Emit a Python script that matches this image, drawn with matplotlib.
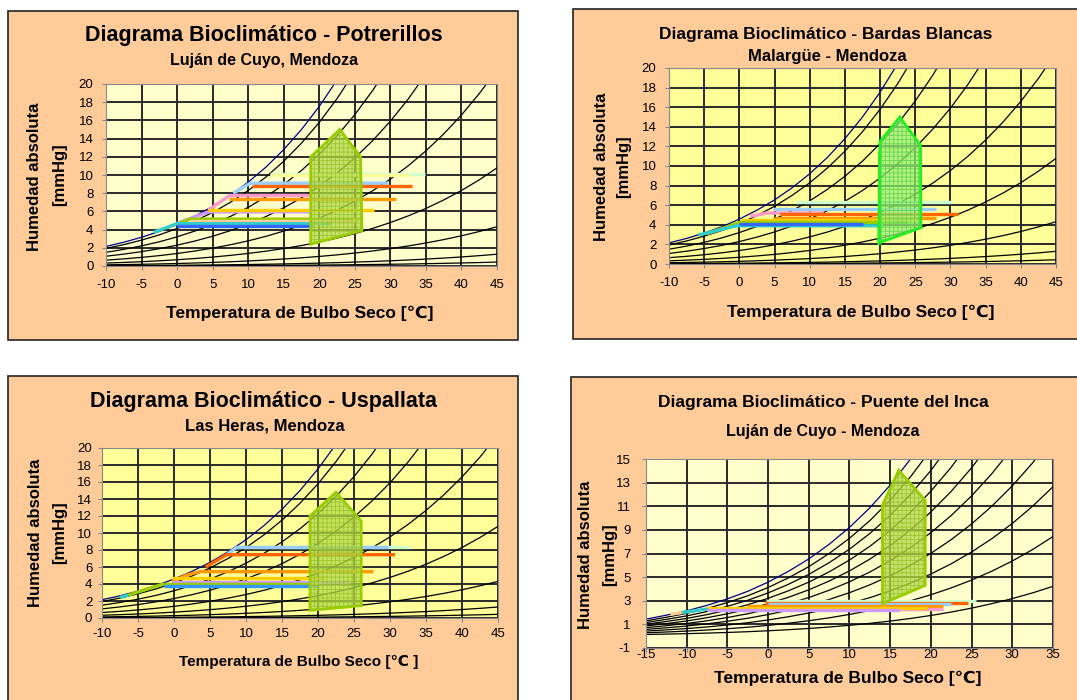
import numpy as np
import matplotlib.pyplot as plt
from matplotlib.patches import Rectangle, Polygon

plt.rcParams['font.family'] = ['Liberation Sans', 'DejaVu Sans']
plt.rcParams['hatch.linewidth'] = 0.6
plt.rcParams['axes.unicode_minus'] = False

W, H = 1077, 700

# saturation vapour pressure [mmHg]
sat_t = [-15, -12.5, -10, -7.5, -5, -2.5, 0, 2.5, 5, 7.5, 10, 12.5, 15, 17.5, 20,
         22.5, 25, 27.5, 30, 32.5, 35, 37.5, 40, 42.5, 45]
sat_p = [1.44, 1.78, 2.15, 2.61, 3.16, 3.80, 4.58, 5.49, 6.54, 7.78, 9.21, 10.87, 12.79,
         15.00, 17.54, 20.44, 23.76, 27.54, 31.82, 36.68, 42.18, 48.36, 55.32, 63.13, 71.88]

# relative humidity levels of the curves
rh_a = [1.0, 0.9, 0.7, 0.5, 0.3, 0.15, 0.06, 0.018, 0.006]
rh_b = [1.0, 0.9, 0.8, 0.7, 0.6, 0.5, 0.4, 0.3, 0.2, 0.1]

month_colors = ['#ccffcc', '#ffff99', '#99ccff', '#ff6600', '#ff99cc', '#ff9900',
                '#cc99ff', '#ffcc00', '#99cc00', '#ffcc99', '#33cccc', '#3366ff']

# monthly lines (T, h) - Potrerillos
pot_t = [[13.0, 34.9], [13.0, 32.8], [7.9, 10.3, 29.7], [10.5, 33.0], [4.4, 7.4, 19.0],
         [7.3, 30.8], [0.0, 4.4, 19.0], [4.4, 27.7], [0.0, 1.8, 25.7], [1.8, 25.0],
         [-3.3, 0.0, 21.7], [0.0, 19.1]]
pot_h = [[10.1, 10.1], [9.95, 9.95], [8.0, 9.1, 9.1], [8.8, 8.8], [6.15, 7.75, 7.75],
         [7.4, 7.4], [4.7, 5.95, 5.95], [6.15, 6.15], [4.6, 5.15, 5.15], [5.0, 5.0],
         [3.7, 4.65, 4.65], [4.4, 4.4]]
pot_zone_t = [18.8, 18.8, 22.9, 25.8, 26.0]
pot_zone_h = [2.4, 12.0, 15.0, 12.0, 3.9]

# Bardas Blancas
bar_t = [[8.0, 30.2], [4.8, 28.0], [1.5, 3.9, 12.0], [5.8, 31.1], [4.9, 28.0],
         [0.3, 25.7], [-4.6, 0.1, 24.0], [-5.8, -4.4, -0.4, 20.4], [0.0, 17.6]]
bar_h = [[6.35, 6.35], [5.6, 5.6], [4.85, 5.2, 5.2], [5.1, 5.1], [4.7, 4.7],
         [4.5, 4.5], [3.1, 4.25, 4.25], [2.96, 3.2, 3.9, 3.9], [4.05, 4.05]]
bar_colors = ['#ccffcc', '#99ccff', '#ff99cc', '#ff6600', '#ff9900', '#ffcc00',
              '#99cc00', '#33cccc', '#3366ff']
bar_zone_t = [19.8, 20.0, 22.8, 25.75, 25.8]
bar_zone_h = [2.15, 12.5, 15.0, 12.1, 3.7]

# Uspallata
usp_t = [[8.7, 32.8], [7.3, 8.7, 29.8], [4.4, 7.3, 30.7], [-0.3, 1.8, 3.6, 27.7],
         [-0.3, 21.0], [-0.3, 24.4], [-6.3, -1.7, 20.0], [-1.4, 19.8], [-7.5, -6.3]]
usp_h = [[8.3, 8.3], [7.45, 8.3, 8.3], [6.0, 7.45, 7.45], [4.27, 5.06, 5.45, 5.45],
         [4.67, 4.67], [4.2, 4.2], [2.7, 3.95, 3.95], [3.76, 3.76], [2.43, 2.7]]
usp_colors = ['#ccffcc', '#99ccff', '#ff6600', '#ff9900', '#ffcc00', '#cc99ff',
              '#99cc00', '#3399ff', '#33cccc']
usp_zone_t = [18.9, 18.9, 22.5, 26.0, 26.0]
usp_zone_h = [0.9, 12.0, 14.8, 11.4, 1.45]

# Puente del Inca
pdi_t = [[-0.2, 25.5], [-0.4, 24.6], [0.0, 22.5], [-2.6, 21.5], [-7.5, 21.5],
         [-7.5, 19.5], [-7.5, 16.2], [-10.6, -7.5], [-12.0, -10.6]]
pdi_h = [[3.0, 3.0], [2.8, 2.8], [2.7, 2.7], [2.55, 2.55], [2.3, 2.3],
         [2.42, 2.42], [2.2, 2.2], [2.0, 2.3], [1.85, 2.0]]
pdi_colors = ['#ccffcc', '#ff6600', '#99ccff', '#ff9900', '#ff99cc', '#ffcc00',
              '#cc99ff', '#33cccc', '#ffcc99']
pdi_zone_t = [14.05, 14.05, 16.05, 19.3, 19.3]
pdi_zone_h = [2.75, 11.1, 14.05, 11.5, 4.3]

ticks_x_a = [-10, -5, 0, 5, 10, 15, 20, 25, 30, 35, 40, 45]
ticks_y_a = [0, 2, 4, 6, 8, 10, 12, 14, 16, 18, 20]
ticks_x_b = [-15, -10, -5, 0, 5, 10, 15, 20, 25, 30, 35]
ticks_y_b = [-1, 1, 3, 5, 7, 9, 11, 13, 15]

fig = plt.figure(figsize=(W / 100, H / 100), dpi=100)


def px_box(l, t, r, b):
    return [l / W, 1 - b / H, (r - l) / W, (b - t) / H]


def frame(l, t, r, b):
    fig.patches.append(Rectangle((l / W, 1 - b / H), (r - l) / W, (b - t) / H,
                                 transform=fig.transFigure, facecolor='#ffcc99',
                                 edgecolor='#222222', lw=1.2, zorder=-5))


def txt(x, y, s, size, **kw):
    fig.text(x / W, 1 - y / H, s, fontsize=size, fontweight='bold',
             ha='center', va='center', **kw)


def chart(box, bg, rh, xlim, ylim, xt, yt, lines_t, lines_h, colors,
          zone_t, zone_h, zone_fill, zone_hatch, zone_edge, xpad, ypad):
    ax = fig.add_axes(px_box(*box))
    ax.set_facecolor(bg)
    for r in rh:
        c = '#000080' if r == 1.0 else 'black'
        ax.plot(sat_t, np.array(sat_p) * r, color=c, lw=0.9, zorder=2)
    for t, h, c in zip(lines_t, lines_h, colors):
        ax.plot(t, h, color=c, lw=2.4, solid_capstyle='butt', zorder=3)
    pts = list(zip(zone_t, zone_h))
    ax.add_patch(Polygon(pts, closed=True, facecolor=zone_fill, edgecolor=zone_hatch,
                         hatch='++++', lw=0, alpha=0.75, zorder=4))
    ax.add_patch(Polygon(pts, closed=True, fill=False, edgecolor=zone_edge,
                         lw=2, zorder=5))
    ax.set_xlim(*xlim)
    ax.set_ylim(*ylim)
    ax.set_xticks(xt)
    ax.set_yticks(yt)
    ax.grid(True, color='#2a2a2a', lw=1.4)
    ax.set_axisbelow(True)
    for s in ax.spines.values():
        s.set_color('#888888')
    ax.tick_params(axis='both', direction='out', length=3, color='#888888', labelsize=9.5)
    ax.tick_params(axis='x', pad=xpad)
    ax.tick_params(axis='y', pad=ypad)
    return ax


# Potrerillos
frame(8, 11, 518, 340)
chart((106, 84, 497, 266), '#ffffcc', rh_a, (-10, 45), (0, 20), ticks_x_a, ticks_y_a,
      pot_t, pot_h, month_colors, pot_zone_t, pot_zone_h,
      '#b5d94a', '#8fbf1f', '#99cc00', 6, 6)
txt(264, 35, 'Diagrama Bioclimático - Potrerillos', 15.5)
txt(264, 61, 'Luján de Cuyo, Mendoza', 11.5)
txt(300, 313, 'Temperatura de Bulbo Seco [℃]', 12.5)
txt(35, 177, 'Humedad absoluta', 12, rotation=90)
txt(60, 175, '[mmHg]', 12, rotation=90)

# Bardas Blancas
frame(573, 9, 1090, 339)
ax2 = chart((669, 68, 1056, 264), '#ffff99', rh_a, (-10, 45), (0, 20), ticks_x_a, ticks_y_a,
            bar_t, bar_h, bar_colors, bar_zone_t, bar_zone_h,
            '#99ee77', '#55cc44', '#22ee22', 6, 6)
ax2.plot([bar_zone_t[0], bar_zone_t[0]], [bar_zone_h[0], 11.4], color='#22ee22', lw=2, zorder=5)
txt(826, 35, 'Diagrama Bioclimático - Bardas Blancas', 12.5)
txt(827, 57, 'Malargüe - Mendoza', 12)
txt(861, 312, 'Temperatura de Bulbo Seco [℃]', 12.5)
txt(601, 167, 'Humedad absoluta', 12, rotation=90)
txt(624, 167, '[mmHg]', 12, rotation=90)

# Uspallata
frame(8, 376, 518, 710)
chart((102, 448, 498, 618), '#ffff99', rh_a, (-10, 45), (0, 20), ticks_x_a, ticks_y_a,
      usp_t, usp_h, usp_colors, usp_zone_t, usp_zone_h,
      '#b5d94a', '#8fbf1f', '#99cc00', 4, 4)
txt(264, 402, 'Diagrama Bioclimático - Uspallata', 15.5)
txt(265, 426, 'Las Heras, Mendoza', 12)
txt(299, 662, 'Temperatura de Bulbo Seco [℃ ]', 11)
txt(36, 533, 'Humedad absoluta', 12, rotation=90)
txt(60, 533, '[mmHg]', 12, rotation=90)

# Puente del Inca
frame(571, 377, 1090, 710)
chart((646, 459, 1053, 648), '#ffffcc', rh_b, (-15, 35), (-1, 15), ticks_x_b, ticks_y_b,
      pdi_t, pdi_h, pdi_colors, pdi_zone_t, pdi_zone_h,
      '#b5d94a', '#8fbf1f', '#99cc00', -2, 8)
txt(823, 403, 'Diagrama Bioclimático - Puente del Inca', 12.5)
txt(823, 431, 'Luján de Cuyo - Mendoza', 11.5)
txt(848, 678, 'Temperatura de Bulbo Seco [℃]', 12.5)
txt(585, 555, 'Humedad absoluta', 12, rotation=90)
txt(610, 555, '[mmHg]', 12, rotation=90)

fig.savefig('out.png', dpi=100)
